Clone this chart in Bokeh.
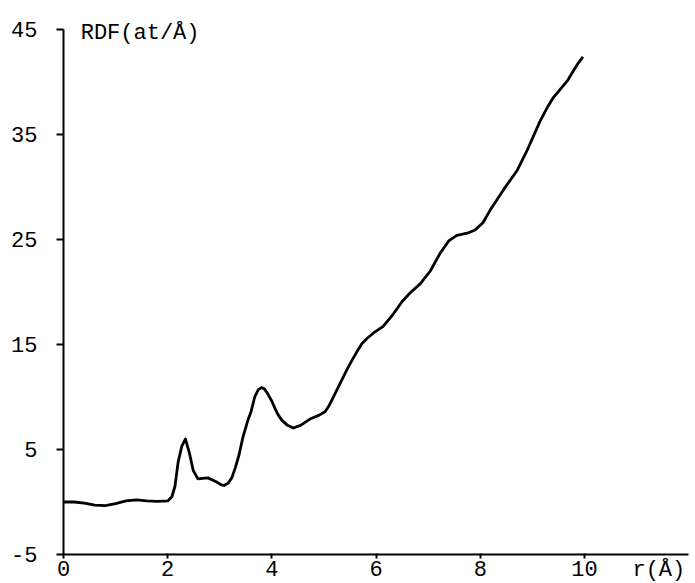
from bokeh.plotting import figure
from bokeh.models import FixedTicker, Label, Range1d
from bokeh.embed import file_html
from bokeh.resources import INLINE

r_vals = [0.0, 0.2, 0.4, 0.6, 0.8, 1.0, 1.2, 1.4, 1.6, 1.8, 2.0, 2.08, 2.14, 2.2, 2.27, 2.34,
          2.42, 2.49, 2.58, 2.67, 2.77, 2.86, 2.94, 3.02, 3.08, 3.16, 3.23, 3.3, 3.37, 3.44,
          3.54, 3.6, 3.67, 3.74, 3.8, 3.86, 3.92, 4.0, 4.06, 4.12, 4.19, 4.3, 4.41, 4.55,
          4.73, 4.9, 5.02, 5.1, 5.17, 5.3, 5.44, 5.55, 5.63, 5.73, 5.83, 5.95, 6.13, 6.33,
          6.5, 6.65, 6.85, 7.04, 7.23, 7.4, 7.55, 7.75, 7.9, 8.05, 8.19, 8.44, 8.71, 8.9,
          9.15, 9.3, 9.4, 9.55, 9.67, 9.79, 9.88, 9.97]
rdf_vals = [0.0, 0.0, -0.1, -0.3, -0.35, -0.15, 0.1, 0.2, 0.1, 0.05, 0.1, 0.5, 1.5, 3.8, 5.3, 6.0,
            4.6, 3.0, 2.2, 2.25, 2.3, 2.1, 1.9, 1.65, 1.57, 1.8, 2.3, 3.3, 4.5, 6.1,
            7.8, 8.6, 10.0, 10.7, 10.9, 10.75, 10.3, 9.6, 8.9, 8.3, 7.8, 7.3, 7.05, 7.3,
            7.9, 8.25, 8.6, 9.2, 9.9, 11.2, 12.6, 13.6, 14.3, 15.1, 15.6, 16.1, 16.7, 17.9,
            19.1, 19.9, 20.8, 22.0, 23.7, 24.9, 25.4, 25.6, 25.9, 26.6, 27.8, 29.7, 31.6, 33.5,
            36.3, 37.7, 38.5, 39.4, 40.1, 41.1, 41.8, 42.4]

x_ticks = [0, 2, 4, 6, 8, 10]
y_ticks = [-5, 5, 15, 25, 35, 45]
y_title = "RDF(at/Å)"
x_title = "r(Å)"

FONT = "Liberation Mono"

p = figure(width=695, height=583, output_backend="svg", toolbar_location=None,
           x_range=Range1d(-1.2092, 12.1305), y_range=Range1d(-7.762, 47.762),
           min_border_left=0, min_border_right=0, min_border_top=0, min_border_bottom=0)
p.outline_line_color = None
p.xgrid.visible = False
p.ygrid.visible = False
p.background_fill_color = "white"
p.border_fill_color = "white"

p.line(r_vals, rdf_vals, line_color="black", line_width=2.8, line_join="round")

for ax in (p.xaxis[0], p.yaxis[0]):
    ax.axis_line_color = "black"
    ax.axis_line_width = 2
    ax.major_tick_line_color = "black"
    ax.major_tick_line_width = 2
    ax.minor_tick_line_color = None
    ax.major_label_text_font = FONT
    ax.major_label_text_color = "black"
    ax.major_label_text_font_size = "22px"

p.xaxis.ticker = FixedTicker(ticks=x_ticks)
p.yaxis.ticker = FixedTicker(ticks=y_ticks)
p.xaxis.fixed_location = -5
p.yaxis.fixed_location = 0
p.xaxis.bounds = (0, 12)
p.yaxis.bounds = (-5, 45)
p.yaxis.major_label_overrides = {-5: "-5"}
p.xaxis.major_tick_out = 4
p.xaxis.major_tick_in = 1
p.xaxis.major_label_standoff = 3
p.yaxis.major_tick_out = 7
p.yaxis.major_tick_in = 0
p.yaxis.major_label_standoff = 19

p.add_layout(Label(x=0.33, y=44.6, text=y_title, text_font=FONT, text_font_size="22px",
                   text_baseline="middle", text_align="left", text_color="black"))
p.add_layout(Label(x=10.92, y=-6.55, text=x_title, text_font=FONT, text_font_size="22px",
                   text_baseline="middle", text_align="left", text_color="black"))

open("out.html", "w").write(file_html(p, INLINE))
